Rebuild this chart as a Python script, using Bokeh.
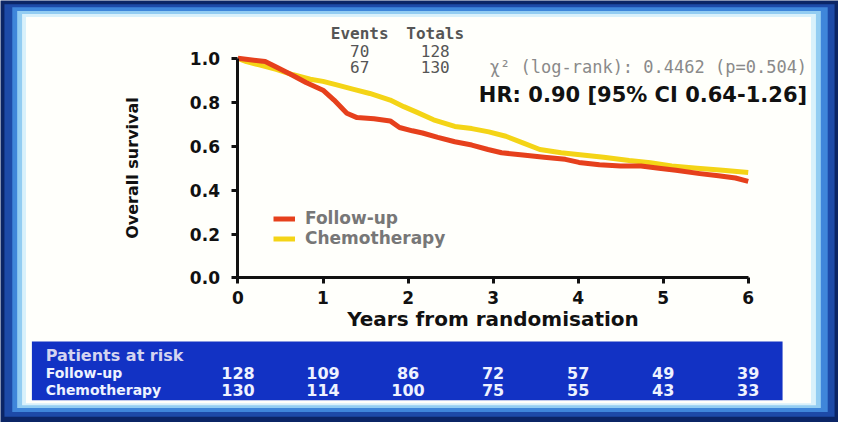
from bokeh.plotting import figure
from bokeh.models import (Range1d, LinearAxis, FixedTicker, Label, Legend, LegendItem,
                          BoxAnnotation, ColumnDataSource)
from bokeh.embed import file_html
from bokeh.resources import INLINE
from bokeh.core.properties import value

# ---------------- data ----------------
series_names = ["Follow-up", "Chemotherapy"]

followup_t = [0, 0.32, 0.45, 0.63, 0.80, 1.00, 1.13, 1.28, 1.40, 1.60, 1.79, 1.90, 2.05, 2.17,
              2.35, 2.55, 2.75, 2.94, 3.10, 3.35, 3.60, 3.85, 4.01, 4.25, 4.50, 4.74, 4.95,
              5.15, 5.43, 5.65, 5.85, 6.00]
followup_s = [1.0, 0.985, 0.96, 0.925, 0.89, 0.855, 0.81, 0.75, 0.73, 0.725, 0.715, 0.685, 0.67,
              0.66, 0.64, 0.62, 0.605, 0.585, 0.57, 0.56, 0.55, 0.54, 0.526, 0.515, 0.51, 0.51,
              0.50, 0.49, 0.475, 0.465, 0.455, 0.44]

chemo_t = [0, 0.10, 0.25, 0.45, 0.65, 0.85, 1.00, 1.15, 1.35, 1.55, 1.79, 1.95, 2.10, 2.30,
           2.55, 2.75, 2.95, 3.15, 3.35, 3.55, 3.80, 4.05, 4.30, 4.60, 4.85, 5.10, 5.40, 5.70, 6.00]
chemo_s = [1.0, 0.985, 0.97, 0.95, 0.925, 0.905, 0.895, 0.88, 0.86, 0.84, 0.81, 0.78, 0.755, 0.72,
           0.69, 0.68, 0.665, 0.645, 0.615, 0.585, 0.57, 0.56, 0.55, 0.535, 0.525, 0.51, 0.50,
           0.49, 0.48]

x_ticks = [0, 1, 2, 3, 4, 5, 6]
y_ticks = [0.0, 0.2, 0.4, 0.6, 0.8, 1.0]
y_tick_labels = ["0.0", "0.2", "0.4", "0.6", "0.8", "1.0"]

risk_years = [0, 1, 2, 3, 4, 5, 6]
risk_followup = [128, 109, 86, 72, 57, 49, 39]
risk_chemo = [130, 114, 100, 75, 55, 43, 33]

events = [70, 67]
totals = [128, 130]
chi2_text = "\u03c7\u00b2 (log-rank): 0.4462 (p=0.504)"
hr_text = "HR: 0.90 [95% CI 0.64-1.26]"

# ---------------- layout ----------------
REF_W, REF_H = 854, 438      # reference picture size
W, H = 838, 422              # figure size (fits inside the 8px page margin)
SX, SY = W / REF_W, H / REF_H
X0_PX, X6_PX = 242, 762      # reference pixel of x=0 and x=6
Y1_PX, Y0_PX = 60, 288       # reference pixel of y=1 and y=0
ppx = (X6_PX - X0_PX) / 6.0
ppy = (Y0_PX - Y1_PX) / 1.0


def dx(px):
    return (px - X0_PX) / ppx


def dy(py):
    return (Y0_PX - py) / ppy


p = figure(width=W, height=H, output_backend="svg", toolbar_location=None,
           x_range=Range1d(dx(0), dx(REF_W)), y_range=Range1d(dy(REF_H), dy(0)),
           x_axis_location=None, y_axis_location=None, min_border=0)
p.grid.visible = False
p.outline_line_color = None
p.background_fill_color = "#0b2566"
p.border_fill_color = "#0b2566"

FONT = "DejaVu Sans"


def box(l, t, r, b, color, level="underlay"):
    p.add_layout(BoxAnnotation(left=dx(l), right=dx(r), top=dy(t), bottom=dy(b),
                               fill_color=color, fill_alpha=1.0, line_color=None, level=level))


# frame decoration
box(4, 4, 850, 432, "#1d4aa8")
box(12, 7, 843, 427, "#3f86da")
box(17, 11, 836, 423, "#93cdf2")
box(22, 14, 831, 420, "#d9f1fb")
box(26, 17, 826, 418, "#fffffb")
# patients-at-risk band
box(32, 354, 797, 415, "#1232c4", level="annotation")


def lab(text, px, py, size, color, style="bold", align="left", font=FONT):
    p.add_layout(Label(x=dx(px), y=dy(py), text=text, text_font=font,
                       text_font_size=f"{size}px", text_color=color, text_font_style=style,
                       text_align=align, text_baseline="middle"))


# ---------------- curves ----------------
r_chemo = p.line(chemo_t, chemo_s, line_color="#f4d416", line_width=5, line_join="round")
r_follow = p.line(followup_t, followup_s, line_color="#e6401c", line_width=5, line_join="round")

# ---------------- axes ----------------
xaxis = LinearAxis(fixed_location=0, bounds=(0, 6), ticker=FixedTicker(ticks=x_ticks),
                   axis_label="Years from randomisation")
yaxis = LinearAxis(fixed_location=0, bounds=(0, 1), ticker=FixedTicker(ticks=y_ticks),
                   axis_label="Overall survival")
yaxis.major_label_overrides = {t: s for t, s in zip(y_ticks, y_tick_labels)}
for ax in (xaxis, yaxis):
    ax.axis_line_width = 3
    ax.axis_line_color = "#111111"
    ax.major_tick_line_width = 3
    ax.major_tick_line_color = "#111111"
    ax.major_tick_in = 0
    ax.major_tick_out = 6
    ax.minor_tick_line_color = None
    ax.major_label_text_font = FONT
    ax.major_label_text_font_style = "bold"
    ax.major_label_text_color = "#111111"
    ax.major_label_text_font_size = "17px"
    ax.axis_label_text_font = FONT
    ax.axis_label_text_font_style = "bold"
    ax.axis_label_text_color = "#111111"
xaxis.major_label_standoff = 7
xaxis.axis_label_text_font_size = "20px"
xaxis.axis_label_standoff = 0
yaxis.major_label_standoff = 12
yaxis.axis_label_text_font_size = "16px"
yaxis.axis_label_standoff = 44
p.add_layout(xaxis, "below")
p.add_layout(yaxis, "left")

# ---------------- legend ----------------
legend = Legend(items=[LegendItem(label=series_names[0], renderers=[r_follow]),
                       LegendItem(label=series_names[1], renderers=[r_chemo])],
                location=(round(278 * SX), round(H - 257 * SY)), padding=0, spacing=0,
                glyph_width=22, glyph_height=19, label_standoff=10,
                background_fill_alpha=0, border_line_color=None,
                label_text_font=FONT, label_text_font_style="bold",
                label_text_font_size="17px", label_text_color="#777777", margin=0)
p.add_layout(legend, "center")

# ---------------- annotations ----------------
MONO = "DejaVu Sans Mono"
lab("Events", 366, 34, 16, "#555555", align="center", font=MONO)
lab("Totals", 443, 34, 16, "#555555", align="center", font=MONO)
for i, py in enumerate([52, 69]):
    lab(str(events[i]), 366, py, 16, "#555555", style="normal", align="center", font=MONO)
    lab(str(totals[i]), 443, py, 16, "#555555", style="normal", align="center", font=MONO)
lab(chi2_text, 822, 69, 17, "#8a8a8a", style="normal", align="right", font=MONO)
lab(hr_text, 822, 98, 21, "#111111", style="bold", align="right")

# ---------------- patients at risk table ----------------
lab("Patients at risk", 46, 368, 16, "#d4d4f0")
lab(series_names[0], 46, 387, 14, "#eef2ff")
lab(series_names[1], 46, 404, 14, "#eef2ff")

risk_src = ColumnDataSource(dict(
    x=risk_years + risk_years,
    y=[dy(387)] * len(risk_years) + [dy(404)] * len(risk_years),
    t=[str(v) for v in risk_followup] + [str(v) for v in risk_chemo]))
p.text(x="x", y="y", text="t", source=risk_src, text_font=value(FONT),
       text_font_style="bold", text_font_size="16px", text_color="#eef2ff",
       text_align="center", text_baseline="middle", level="overlay")

open("out.html", "w").write(file_html(p, INLINE))
